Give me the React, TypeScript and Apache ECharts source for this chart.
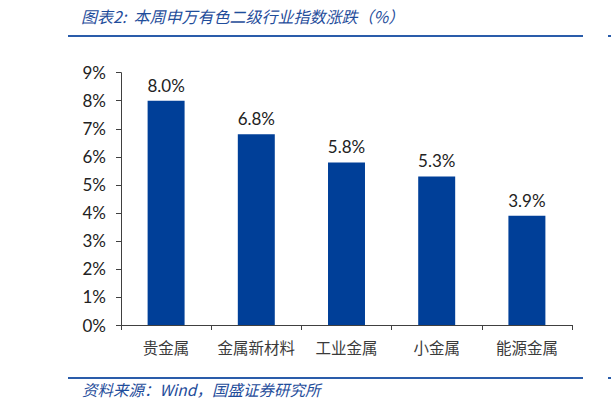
import * as React from "react";
import * as echarts from "echarts";

// 本周申万有色二级行业指数涨跌（%）
const categories = ["贵金属", "金属新材料", "工业金属", "小金属", "能源金属"];
const changes = [8.0, 6.8, 5.8, 5.3, 3.9];
const yTicks = [0, 1, 2, 3, 4, 5, 6, 7, 8, 9];

const BLUE = "#003F98";
const RULE = "#2A5CAA";
const TEXT_BLUE = "#1F4D9B";

export default function App() {
  const ref = React.useRef<HTMLDivElement | null>(null);

  React.useEffect(() => {
    if (!ref.current) return;
    const chart = echarts.init(ref.current, undefined, { renderer: "svg" });
    chart.setOption({
      animation: false,
      backgroundColor: "#fff",
      grid: { left: 121, right: 39, top: 72.7, bottom: 85 },
      xAxis: {
        type: "category",
        data: categories,
        axisLine: { lineStyle: { color: "#404040", width: 1 } },
        axisTick: { show: true, length: 5, alignWithLabel: false, lineStyle: { color: "#404040" } },
        axisLabel: {
          interval: 0,
          margin: 14,
          color: "#3a3a3a",
          fontSize: 15.5,
          fontFamily: "Noto Sans CJK SC",
        },
      },
      yAxis: {
        type: "value",
        min: yTicks[0],
        max: yTicks[yTicks.length - 1],
        interval: 1,
        splitLine: { show: false },
        axisLine: { show: true, lineStyle: { color: "#404040", width: 1 } },
        axisTick: { show: true, length: 5, lineStyle: { color: "#404040" } },
        axisLabel: {
          margin: 15,
          color: "#222",
          fontSize: 17,
          fontFamily: "Lato",
          formatter: (v: number) => `${v}%`,
        },
      },
      series: [
        {
          type: "bar",
          data: changes,
          barWidth: "41%",
          itemStyle: { color: BLUE },
          label: {
            show: true,
            position: "top",
            distance: 7,
            color: "#222",
            fontSize: 17,
            fontFamily: "Lato",
            formatter: (p: { value: number }) => `${p.value.toFixed(1)}%`,
          },
        },
      ],
      graphic: [
        {
          type: "text",
          left: 81,
          top: 8,
          style: {
            text: "图表2:  本周申万有色二级行业指数涨跌（%）",
            fill: TEXT_BLUE,
            fontSize: 16,
            fontStyle: "italic",
            fontFamily: "Noto Sans CJK SC",
          },
        },
        { type: "rect", shape: { x: 68, y: 35, width: 515, height: 2 }, style: { fill: RULE } },
        { type: "rect", shape: { x: 608, y: 35, width: 3, height: 2 }, style: { fill: RULE } },
        { type: "rect", shape: { x: 68, y: 377, width: 515, height: 2 }, style: { fill: RULE } },
        { type: "rect", shape: { x: 608, y: 377, width: 3, height: 2 }, style: { fill: RULE } },
        {
          type: "text",
          left: 82,
          top: 381,
          style: {
            text: "资料来源：Wind，国盛证券研究所",
            fill: TEXT_BLUE,
            fontSize: 15.5,
            fontStyle: "italic",
            fontFamily: "Noto Sans CJK SC",
          },
        },
      ],
    });
    return () => chart.dispose();
  }, []);

  return (
    <div
      ref={ref}
      style={{ position: "fixed", left: 0, top: 0, width: 611, height: 410 }}
    />
  );
}
